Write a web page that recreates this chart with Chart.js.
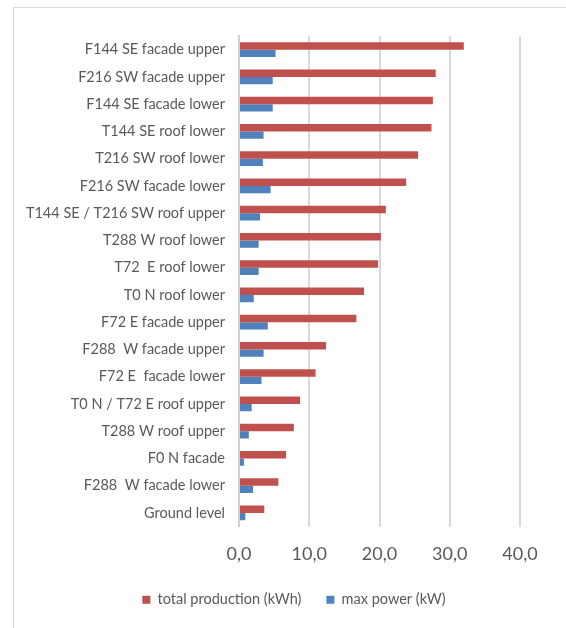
<!DOCTYPE html>
<html>
<head>
<meta charset="utf-8">
<script src="https://cdn.jsdelivr.net/npm/chart.js@4/dist/chart.umd.min.js"></script>
<style>
    body { margin: 0; background: #fff; }
    #wrap { position: relative; width: 566px; height: 628px; overflow: hidden; }
    #frame { position: absolute; left: 13px; top: 7px; width: 600px; height: 640px; border: 1px solid #d9d9d9; }
    #chartPv { position: absolute; left: 0; top: 0; }
</style>
</head>
<body>
<div id="wrap">
    <div id="frame"></div>
    <canvas id="chartPv" width="566" height="628"></canvas>
</div>
<script>
// Data
const locations = [
    'F144 SE facade upper', 'F216 SW facade upper', 'F144 SE facade lower', 'T144 SE roof lower',
    'T216 SW roof lower', 'F216 SW facade lower', 'T144 SE / T216 SW roof upper', 'T288 W roof lower',
    'T72  E roof lower', 'T0 N roof lower', 'F72 E facade upper', 'F288  W facade upper',
    'F72 E  facade lower', 'T0 N / T72 E roof upper', 'T288 W roof upper', 'F0 N facade',
    'F288  W facade lower', 'Ground level'
];
const totalProduction = [32.0, 28.0, 27.6, 27.4, 25.5, 23.8, 20.9, 20.2, 19.8, 17.8, 16.7, 12.4, 10.9, 8.7, 7.8, 6.7, 5.6, 3.6];
const maxPower = [5.2, 4.8, 4.8, 3.5, 3.4, 4.5, 3.0, 2.8, 2.8, 2.1, 4.1, 3.5, 3.2, 1.8, 1.4, 0.7, 2.0, 0.9];
const xTicks = [0, 10, 20, 30, 40];

const textGrey = '#595959';

// legend is centred on the frame, which runs past the right edge
const legendShift = {
    id: 'legendShift',
    afterLayout(chart) {
        chart.legend.left += 34;
        chart.legend.right += 34;
    }
};

const ctxPv = document.getElementById('chartPv').getContext('2d');
new Chart(ctxPv, {
    type: 'bar',
    data: {
        labels: locations,
        datasets: [
            { label: 'total production (kWh)', data: totalProduction, backgroundColor: '#C0504D' },
            { label: 'max power (kW)', data: maxPower, backgroundColor: '#4F81BD' }
        ]
    },
    options: {
        indexAxis: 'y',
        responsive: false,
        animation: false,
        categoryPercentage: 0.55,
        barPercentage: 1,
        layout: { padding: { top: 36, left: 0, right: 46, bottom: 11 } },
        scales: {
            x: {
                min: xTicks[0],
                max: xTicks[xTicks.length - 1],
                afterBuildTicks: scale => { scale.ticks = xTicks.map(v => ({ value: v })); },
                afterFit: scale => { scale.height = 41; },
                grid: { color: '#d9d9d9', lineWidth: 2, drawTicks: false },
                border: { display: false },
                ticks: {
                    padding: 17,
                    color: textGrey,
                    font: { family: 'Lato', size: 18 },
                    callback: v => v.toFixed(1).replace('.', ',')
                }
            },
            y: {
                afterFit: scale => { scale.width = 239; },
                grid: { display: false, drawTicks: false },
                border: { color: '#d0d0d0', width: 2 },
                ticks: {
                    padding: 14,
                    color: textGrey,
                    font: { family: 'Lato', size: 14.5 }
                }
            }
        },
        plugins: {
            legend: {
                position: 'bottom',
                labels: {
                    boxWidth: 8,
                    boxHeight: 8,
                    padding: 25,
                    color: textGrey,
                    font: { family: 'Lato', size: 14.5 }
                }
            },
            tooltip: { enabled: false }
        }
    },
    plugins: [legendShift]
});
</script>
</body>
</html>
